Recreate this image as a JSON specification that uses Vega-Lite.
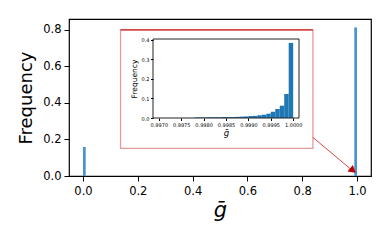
{
  "$schema": "https://vega.github.io/schema/vega-lite/v6.json",
  "width": 302,
  "height": 157,
  "autosize": "none",
  "padding": {"left": 69, "top": 19, "right": 20, "bottom": 65},
  "background": "white",
  "config": {
    "font": "DejaVu Sans",
    "view": {"stroke": "black", "strokeWidth": 1.2},
    "axis": {"grid": false, "domain": false, "labelColor": "black", "tickColor": "black", "titleColor": "black", "titleFontWeight": "normal", "labelFont": "DejaVu Sans", "titleFont": "DejaVu Sans"}
  },
  "datasets": {
    "main": [
      {"lo": 0.0, "hi": 0.01, "freq": 0.158},
      {"lo": 0.99, "hi": 1.0, "freq": 0.812}
    ],
    "inset": [
      {"lo": 0.9978, "hi": 0.9979, "freq": 0.003},
      {"lo": 0.9979, "hi": 0.9980, "freq": 0.003},
      {"lo": 0.9980, "hi": 0.9981, "freq": 0.003},
      {"lo": 0.9981, "hi": 0.9982, "freq": 0.004},
      {"lo": 0.9982, "hi": 0.9983, "freq": 0.004},
      {"lo": 0.9983, "hi": 0.9984, "freq": 0.004},
      {"lo": 0.9984, "hi": 0.9985, "freq": 0.005},
      {"lo": 0.9985, "hi": 0.9986, "freq": 0.005},
      {"lo": 0.9986, "hi": 0.9987, "freq": 0.005},
      {"lo": 0.9987, "hi": 0.9988, "freq": 0.006},
      {"lo": 0.9988, "hi": 0.9989, "freq": 0.007},
      {"lo": 0.9989, "hi": 0.9990, "freq": 0.008},
      {"lo": 0.9990, "hi": 0.9991, "freq": 0.010},
      {"lo": 0.9991, "hi": 0.9992, "freq": 0.011},
      {"lo": 0.9992, "hi": 0.9993, "freq": 0.014},
      {"lo": 0.9993, "hi": 0.9994, "freq": 0.017},
      {"lo": 0.9994, "hi": 0.9995, "freq": 0.022},
      {"lo": 0.9995, "hi": 0.9996, "freq": 0.032},
      {"lo": 0.9996, "hi": 0.9997, "freq": 0.046},
      {"lo": 0.9997, "hi": 0.9998, "freq": 0.063},
      {"lo": 0.9998, "hi": 0.9999, "freq": 0.123},
      {"lo": 0.9999, "hi": 1.0000, "freq": 0.385}
    ]
  },
  "layer": [
    {
      "data": {"name": "main"},
      "mark": {"type": "rect", "color": "#4a95d0"},
      "encoding": {
        "x": {"field": "lo", "type": "quantitative", "scale": {"domain": [-0.051, 1.051], "nice": false, "zero": false},
          "axis": {"orient": "bottom", "values": [0, 0.2, 0.4, 0.6, 0.8, 1.0], "format": ".1f", "labelFontSize": 11.5, "tickSize": 5, "labelPadding": 4, "title": "ḡ", "titleFontSize": 21, "titleFontStyle": "italic", "titlePadding": 3}},
        "x2": {"field": "hi"},
        "y": {"field": "freq", "type": "quantitative", "scale": {"domain": [0, 0.858], "nice": false},
          "axis": {"orient": "left", "values": [0, 0.2, 0.4, 0.6, 0.8], "format": ".1f", "labelFontSize": 11.5, "tickSize": 5, "labelPadding": 3, "title": "Frequency", "titleFontSize": 18, "titlePadding": 7}},
        "y2": {"datum": 0}
      }
    },
    {
      "data": {"values": [{}]},
      "mark": {"type": "rect", "fill": "white", "stroke": "#e59a9a", "strokeWidth": 1.3},
      "encoding": {
        "x": {"datum": 0.137, "type": "quantitative", "scale": {"domain": [-0.051, 1.051], "nice": false, "zero": false}, "axis": null},
        "x2": {"datum": 0.839},
        "y": {"datum": 0.799, "type": "quantitative", "scale": {"domain": [0, 0.858], "nice": false}, "axis": null},
        "y2": {"datum": 0.151}
      }
    },
    {
      "data": {"values": [{}]},
      "mark": {"type": "rule", "stroke": "#cc2222", "strokeWidth": 1.3},
      "encoding": {
        "x": {"datum": 0.137, "type": "quantitative", "scale": {"domain": [-0.051, 1.051], "nice": false, "zero": false}, "axis": null},
        "x2": {"datum": 0.839},
        "y": {"datum": 0.799, "type": "quantitative", "scale": {"domain": [0, 0.858], "nice": false}, "axis": null}
      }
    },
    {
      "data": {"values": [{}]},
      "mark": {"type": "rule", "stroke": "#d23030", "strokeWidth": 0.9},
      "encoding": {
        "x": {"datum": 0.839, "type": "quantitative", "scale": {"domain": [-0.051, 1.051], "nice": false, "zero": false}, "axis": null},
        "x2": {"datum": 0.975},
        "y": {"datum": 0.211, "type": "quantitative", "scale": {"domain": [0, 0.858], "nice": false}, "axis": null},
        "y2": {"datum": 0.04}
      }
    },
    {
      "data": {"values": [{}]},
      "mark": {"type": "point", "shape": "triangle-right", "filled": true, "color": "#c00000", "opacity": 1, "size": 70, "angle": 40},
      "encoding": {
        "x": {"datum": 0.985, "type": "quantitative", "scale": {"domain": [-0.051, 1.051], "nice": false, "zero": false}, "axis": null},
        "y": {"datum": 0.03, "type": "quantitative", "scale": {"domain": [0, 0.858], "nice": false}, "axis": null}
      }
    },
    {
      "data": {"name": "inset"},
      "mark": {"type": "rect", "color": "#1f77b4"},
      "encoding": {
        "x": {"field": "lo", "type": "quantitative", "scale": {"domain": [0.99687, 1.00013], "range": [84, 230], "nice": false, "zero": false},
          "axis": {"orient": "bottom", "offset": -58, "zindex": 2, "values": [0.997, 0.9975, 0.998, 0.9985, 0.999, 0.9995, 1.0], "format": ".4f", "labelFontSize": 5, "tickSize": 2.5, "labelPadding": 1.5, "title": "ḡ", "titleFontSize": 8.5, "titleFontStyle": "italic", "titlePadding": 1}},
        "x2": {"field": "hi"},
        "y": {"field": "freq", "type": "quantitative", "scale": {"domain": [0, 0.405], "range": [99, 20], "nice": false},
          "axis": {"orient": "left", "offset": -84, "zindex": 2, "values": [0, 0.1, 0.2, 0.3, 0.4], "format": ".1f", "labelFontSize": 5, "tickSize": 2.5, "labelPadding": 1.5, "title": "Frequency", "titleFontSize": 7.5, "titlePadding": 3}},
        "y2": {"datum": 0}
      }
    },
    {
      "data": {"values": [{}]},
      "mark": {"type": "rect", "fillOpacity": 0, "stroke": "#222222", "strokeWidth": 1},
      "encoding": {
        "x": {"datum": 0.99687, "type": "quantitative", "scale": {"domain": [0.99687, 1.00013], "range": [84, 230], "nice": false, "zero": false}, "axis": null},
        "x2": {"datum": 1.00013},
        "y": {"datum": 0, "type": "quantitative", "scale": {"domain": [0, 0.405], "range": [99, 20], "nice": false}, "axis": null},
        "y2": {"datum": 0.405}
      }
    }
  ],
  "resolve": {"scale": {"x": "independent", "y": "independent"}, "axis": {"x": "independent", "y": "independent"}}
}
